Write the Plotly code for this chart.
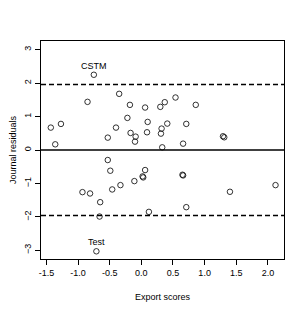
import plotly.graph_objects as go

# Export scores (x) and journal residuals (y)
x_scores = [-1.43, -1.27, -1.36, -0.85, -0.35, -0.18, -0.22, -0.40, -0.53, -0.17, -0.09, -0.10,
            0.06, 0.30, 0.37, 0.54, 0.86, 0.10, 0.41, 0.71, 0.32, 0.09, 0.31, 1.29, 1.31, 0.33, 0.66,
            -0.75,
            0.06, 0.02, 0.03, 0.65, 0.66, 2.12, 1.40, 0.12, 0.71,
            -0.53, -0.49, -0.33, -0.46, -0.11, -0.93, -0.81, -0.65, -0.66,
            -0.71]
y_resid = [0.67, 0.78, 0.17, 1.44, 1.68, 1.35, 0.96, 0.67, 0.37, 0.51, 0.40, 0.25,
           1.27, 1.29, 1.43, 1.57, 1.35, 0.84, 0.79, 0.78, 0.64, 0.53, 0.49, 0.41, 0.38, 0.08, 0.19,
           2.25,
           -0.60, -0.79, -0.82, -0.74, -0.76, -1.05, -1.25, -1.85, -1.71,
           -0.30, -0.62, -1.05, -1.18, -0.93, -1.26, -1.30, -1.56, -1.99,
           -3.03]

label_names = ["CSTM", "Test"]
label_x = [-0.75, -0.71]
label_y = [2.25, -3.03]

ref_levels = [1.96, 0.0, -1.96]
x_ticks = [-1.5, -1.0, -0.5, 0.0, 0.5, 1.0, 1.5, 2.0]
x_ticktext = ["-1.5", "-1.0", "-0.5", "0.0", "0.5", "1.0", "1.5", "2.0"]
y_ticks = [-3, -2, -1, 0, 1, 2, 3]

FONT = "Liberation Sans, Arial, sans-serif"

fig = go.Figure()

for lv in ref_levels:
    fig.add_hline(y=lv, line=dict(color="black", width=1.5, dash="solid" if lv == 0 else "5px,3px"))

fig.add_trace(go.Scatter(
    x=x_scores, y=y_resid, mode="markers",
    marker=dict(symbol="circle-open", size=5.5, color="black", line=dict(width=0.8, color="black")),
    showlegend=False, hoverinfo="skip"))

for name, lx, ly in zip(label_names, label_x, label_y):
    fig.add_annotation(x=lx, y=ly, text=name, showarrow=False, yshift=9,
                       font=dict(size=9, color="black", family=FONT))

axis_common = dict(showgrid=False, zeroline=False, showline=True, mirror=True,
                   linecolor="black", linewidth=1, ticks="outside", ticklen=5,
                   tickcolor="black", tickwidth=1,
                   tickfont=dict(size=9, color="black", family=FONT))

fig.update_xaxes(range=[-1.585, 2.254], tickvals=x_ticks, ticktext=x_ticktext,
                 title=dict(text="Export scores", standoff=16,
                            font=dict(size=9, color="black", family=FONT)),
                 **axis_common)
fig.update_yaxes(range=[-3.26, 3.26], tickvals=y_ticks, tickangle=-90,
                 title=dict(text="Journal residuals", standoff=8,
                            font=dict(size=9, color="black", family=FONT)),
                 **axis_common)

# page body has an 8px default margin, so the figure is 8px smaller and its
# left/top margins are reduced accordingly
fig.update_layout(width=298, height=304, margin=dict(l=33, r=22, t=33, b=53, autoexpand=False),
                  paper_bgcolor="white", plot_bgcolor="white")

fig.write_html("out.html")
